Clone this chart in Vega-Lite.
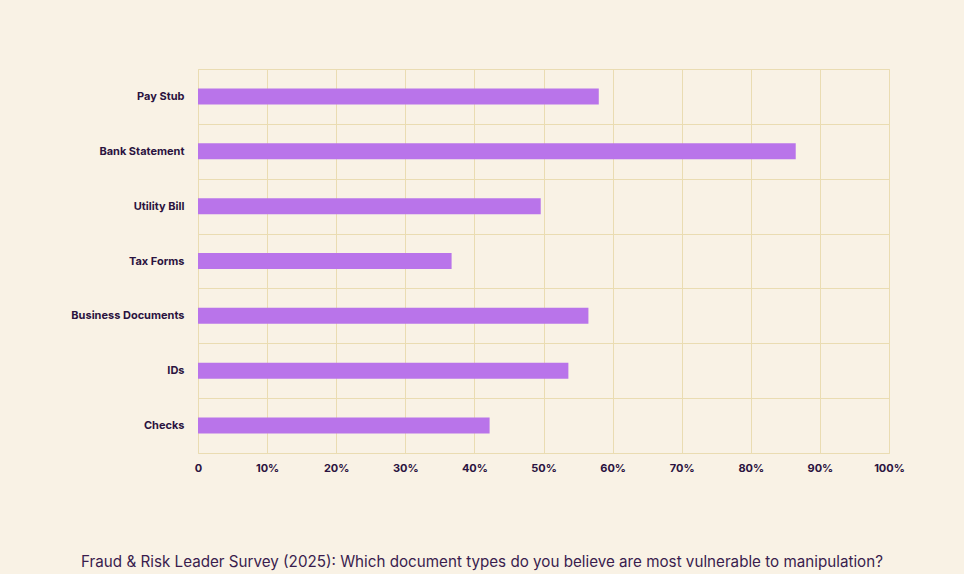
{
  "$schema": "https://vega.github.io/schema/vega-lite/v6.json",
  "background": "#f9f2e5",
  "autosize": {"type": "none"},
  "padding": {"left": 198, "top": 69, "right": 75, "bottom": 121},
  "width": 691,
  "height": 384,
  "config": {
    "font": "Inter",
    "view": {"stroke": "#eadcb2", "strokeWidth": 1}
  },
  "title": {
    "text": "Fraud & Risk Leader Survey (2025): Which document types do you believe are most vulnerable to manipulation?",
    "orient": "bottom",
    "anchor": "middle",
    "frame": "group",
    "dx": -61.5,
    "offset": 15,
    "font": "Inter",
    "fontSize": 15.2,
    "fontWeight": "normal",
    "color": "#3a1d4e"
  },
  "data": {
    "values": [
      {"doc": "Pay Stub", "pct": 58.0},
      {"doc": "Bank Statement", "pct": 86.5},
      {"doc": "Utility Bill", "pct": 49.6},
      {"doc": "Tax Forms", "pct": 36.7},
      {"doc": "Business Documents", "pct": 56.5},
      {"doc": "IDs", "pct": 53.6},
      {"doc": "Checks", "pct": 42.2}
    ]
  },
  "mark": {"type": "bar", "size": 16, "color": "#b974ea"},
  "encoding": {
    "y": {
      "field": "doc",
      "type": "nominal",
      "sort": null,
      "scale": {"paddingInner": 0, "paddingOuter": 0},
      "axis": {
        "title": null,
        "domain": false,
        "ticks": false,
        "tickBand": "extent",
        "grid": true,
        "gridColor": "#eadcb2",
        "gridWidth": 1,
        "labelPadding": 14,
        "labelFont": "Inter",
        "labelFontSize": 11,
        "labelFontWeight": "bold",
        "labelColor": "#2b1340"
      }
    },
    "x": {
      "field": "pct",
      "type": "quantitative",
      "scale": {"domain": [0, 100], "nice": false},
      "axis": {
        "title": null,
        "domain": false,
        "ticks": false,
        "values": [0, 10, 20, 30, 40, 50, 60, 70, 80, 90, 100],
        "labelExpr": "datum.value == 0 ? '0' : datum.value + '%'",
        "grid": true,
        "gridColor": "#eadcb2",
        "gridWidth": 1,
        "labelPadding": 9,
        "labelFont": "Inter",
        "labelFontSize": 11,
        "labelFontWeight": "bold",
        "labelColor": "#2b1340",
        "labelFlush": false,
        "minExtent": 87
      }
    }
  }
}
